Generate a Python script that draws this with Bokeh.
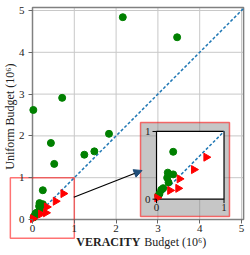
import math
from bokeh.plotting import figure
from bokeh.models import Range1d, Label, Arrow, NormalHead, FixedTicker
from bokeh.core.properties import value
from bokeh.embed import file_html
from bokeh.resources import INLINE

# ---- data (budgets in millions) ----
green_veracity = [0.02, 0.71, 2.16, 3.46, 0.44, 0.52, 1.24, 1.48, 1.83,
                  0.247, 0.167, 0.247, 0.158, 0.178, 0.099, 0.07, 0.044, 0.025]
green_uniform = [2.62, 2.91, 4.84, 4.36, 1.83, 1.33, 1.55, 1.63, 2.05,
                 0.70, 0.392, 0.366, 0.317, 0.248, 0.163, 0.139, 0.08, 0.05]
red_veracity = [0.736, 0.553, 0.34, 0.32, 0.20, 0.01]
red_uniform = [0.62, 0.437, 0.30, 0.16, 0.13, 0.02]
main_ticks = [0, 1, 2, 3, 4, 5]
inset_ticks = [0, 1]
zoom_lo, zoom_hi = 0.0, 1.0

# ---- layout constants ----
W, H = 248, 253
PPU = 41.8                 # pixels per unit
OX, OY = 32, 219           # pixel position of data origin
BOX_X_END, BOX_Y_END = 5.05, 5.07
IX0, IY0, IW, IH = 2.967, 0.486, 1.615, 1.62     # inset plot area
GBOX = dict(left=2.584, right=4.713, bottom=0.072, top=2.321)  # inset background
IND = dict(left=-0.53, right=zoom_hi, bottom=-0.45, top=zoom_hi)  # zoom indicator
SERIF = "Liberation Serif"
TXT = "#222222"

p = figure(width=W, height=H,
           x_range=Range1d(-OX / PPU, (W - OX) / PPU),
           y_range=Range1d((OY - H) / PPU, OY / PPU),
           output_backend="svg", toolbar_location=None,
           min_border=0, min_border_left=0, min_border_right=0,
           min_border_top=0, min_border_bottom=0)
p.background_fill_color = "white"
p.border_fill_color = "white"
p.outline_line_color = None
p.grid.visible = False

# grid lines inside the plot box
p.segment(x0=main_ticks, y0=[0] * len(main_ticks), x1=main_ticks, y1=[BOX_Y_END] * len(main_ticks),
          line_color="#c8c8c8", line_width=1)
p.segment(x0=[0] * len(main_ticks), y0=main_ticks, x1=[BOX_X_END] * len(main_ticks), y1=main_ticks,
          line_color="#c8c8c8", line_width=1)

# axes placed on the plot box edges
for ax in (p.xaxis[0], p.yaxis[0]):
    ax.fixed_location = 0
    ax.ticker = FixedTicker(ticks=main_ticks)
    ax.axis_line_color = None
    ax.major_tick_in = 0
    ax.major_tick_out = 4
    ax.major_tick_line_color = "#666666"
    ax.minor_tick_line_color = None
    ax.major_label_text_font = SERIF
    ax.major_label_text_font_size = "11px"
    ax.major_label_text_color = TXT
p.xaxis.major_label_standoff = 1
p.yaxis.major_label_standoff = 4

# plot box
p.quad(left=0, right=BOX_X_END, bottom=0, top=BOX_Y_END, fill_color=None,
       line_color="#808080", line_width=1.5)

# ---- main marks ----
p.line([0, min(BOX_X_END, BOX_Y_END)], [0, min(BOX_X_END, BOX_Y_END)],
       line_color="#1f77b4", line_width=1.5, line_dash="3 2")
p.scatter(green_veracity, green_uniform, size=7, color="green")
p.scatter(red_veracity, red_uniform, marker="triangle", angle=-math.pi / 2, size=8, color="red")

# ---- zoom indicator and connector ----
p.quad(fill_color=None, line_color="red", line_alpha=0.55, line_width=1.5, **IND)
p.add_layout(Arrow(end=NormalHead(size=8, fill_color="#1f4e79", line_color="#1f4e79"),
                   x_start=0.988, y_start=0.533, x_end=2.62, y_end=1.172,
                   line_color="black", line_width=1.2))

# ---- inset ----
p.quad(fill_color="gray", fill_alpha=0.45, line_color="red", line_alpha=0.55, line_width=1.5, **GBOX)
p.quad(left=IX0, right=IX0 + IW, bottom=IY0, top=IY0 + IH,
       fill_color="white", line_color="black", line_width=1.2)

def tx(v):
    return IX0 + IW * (v - zoom_lo) / (zoom_hi - zoom_lo)

def ty(v):
    return IY0 + IH * (v - zoom_lo) / (zoom_hi - zoom_lo)

def inside(xs, ys):
    pts = [(a, b) for a, b in zip(xs, ys) if zoom_lo <= a <= zoom_hi and zoom_lo <= b <= zoom_hi]
    return [tx(a) for a, _ in pts], [ty(b) for _, b in pts]

p.line([tx(zoom_lo), tx(zoom_hi)], [ty(zoom_lo), ty(zoom_hi)],
       line_color="#1f77b4", line_width=1.5, line_dash="3 2")
gx, gy = inside(green_veracity, green_uniform)
p.scatter(gx, gy, size=7, color="green")
rx, ry = inside(red_veracity, red_uniform)
p.scatter(rx, ry, marker="triangle", angle=-math.pi / 2, size=8, color="red")

tick_len = 4 / PPU
p.segment(x0=[tx(t) for t in inset_ticks], y0=[IY0] * len(inset_ticks),
          x1=[tx(t) for t in inset_ticks], y1=[IY0 - tick_len] * len(inset_ticks),
          line_color="black", line_width=1)
p.segment(x0=[IX0] * len(inset_ticks), y0=[ty(t) for t in inset_ticks],
          x1=[IX0 - tick_len] * len(inset_ticks), y1=[ty(t) for t in inset_ticks],
          line_color="black", line_width=1)
p.text([tx(t) for t in inset_ticks], [IY0] * len(inset_ticks), text=[str(t) for t in inset_ticks],
       text_font=value(SERIF), text_font_size="11px", text_color=TXT,
       text_align="center", text_baseline="top", y_offset=5)
p.text([IX0] * len(inset_ticks), [ty(t) for t in inset_ticks], text=[str(t) for t in inset_ticks],
       text_font=value(SERIF), text_font_size="11px", text_color=TXT,
       text_align="right", text_baseline="middle", x_offset=-6)

# ---- axis titles ----
p.add_layout(Label(x=2.58, y=-0.55, text="VERACITY", text_font=SERIF, text_font_size="12px",
                   text_font_style="bold", text_color=TXT,
                   text_align="right", text_baseline="middle"))
p.add_layout(Label(x=2.58, y=-0.55, x_offset=4, text="Budget (10⁶)", text_font=SERIF,
                   text_font_size="12px", text_color=TXT,
                   text_align="left", text_baseline="middle"))
p.add_layout(Label(x=-0.55, y=2.46, text="Uniform Budget (10⁶)", text_font=SERIF,
                   text_font_size="12px", text_color=TXT, angle=math.pi / 2,
                   text_align="center", text_baseline="middle"))

open("out.html", "w").write(file_html(p, INLINE))
